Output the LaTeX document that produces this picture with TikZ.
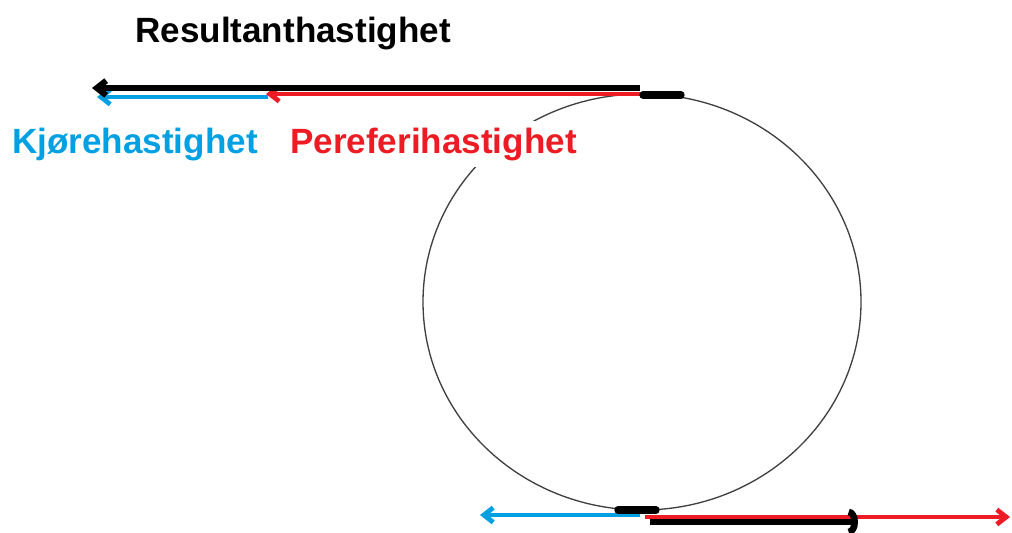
\documentclass[tikz,border=0pt]{standalone}
\usepackage{fontspec}
\setmainfont{Liberation Sans}
\usetikzlibrary{arrows.meta}
\definecolor{kjoreblaa}{RGB}{0,160,227}
\definecolor{periferirod}{RGB}{237,28,36}

\begin{document}
\begin{tikzpicture}[x=0.75pt,y=-0.75pt,
tekst/.style={anchor=base west,inner xsep=0pt,inner ysep=0pt,font=\fontsize{26.3}{31}\selectfont\bfseries},
pil/.style={line width=#1,-{Straight Barb[length=7pt,width=11pt]}},
beroring/.style={line width=5.5pt,line cap=round}]
\useasboundingbox (0,0) rectangle (1012,532);

\draw[line width=1pt,black!75] (642,302) ellipse [x radius=219, y radius=208];

\node[tekst] (resultant) at (135,42) {Resultanthastighet};
\node[tekst,text=kjoreblaa] (kjore) at (12,153) {Kjørehastighet};
\node[tekst,text=periferirod,fill=white,inner ysep=5pt] (periferi) at (290,153) {Pereferihastighet};

\coordinate (rA) at (640,88);
\coordinate (rB) at (92,88);
\coordinate (pA) at (640,94);
\coordinate (pB) at (266,94);
\coordinate (kA) at (268,97);
\coordinate (kB) at (97,97);
\coordinate (tA) at (643,95);
\coordinate (tB) at (681,95);

\coordinate (tC) at (618,510);
\coordinate (tD) at (656,510);
\coordinate (kC) at (640,515);
\coordinate (kD) at (480,515);
\coordinate (pC) at (645,517);
\coordinate (pD) at (1010,517);
\coordinate (rC) at (650,522);
\coordinate (rD) at (858,522);

\draw[pil=3.6pt,periferirod] (pA) -- (pB);
\draw[pil=3.6pt,kjoreblaa] (kA) -- (kB);
\draw[pil=4.5pt,black] (rA) -- (rB);
\draw[beroring] (tA) -- (tB);

\draw[pil=3.6pt,kjoreblaa] (kC) -- (kD);
\draw[beroring] (tC) -- (tD);
\draw[pil=3.6pt,periferirod] (pC) -- (pD);
\draw[line width=5pt,black,-{Arc Barb[length=7pt,width=20pt]}] (rC) -- (rD);
\end{tikzpicture}
\end{document}
